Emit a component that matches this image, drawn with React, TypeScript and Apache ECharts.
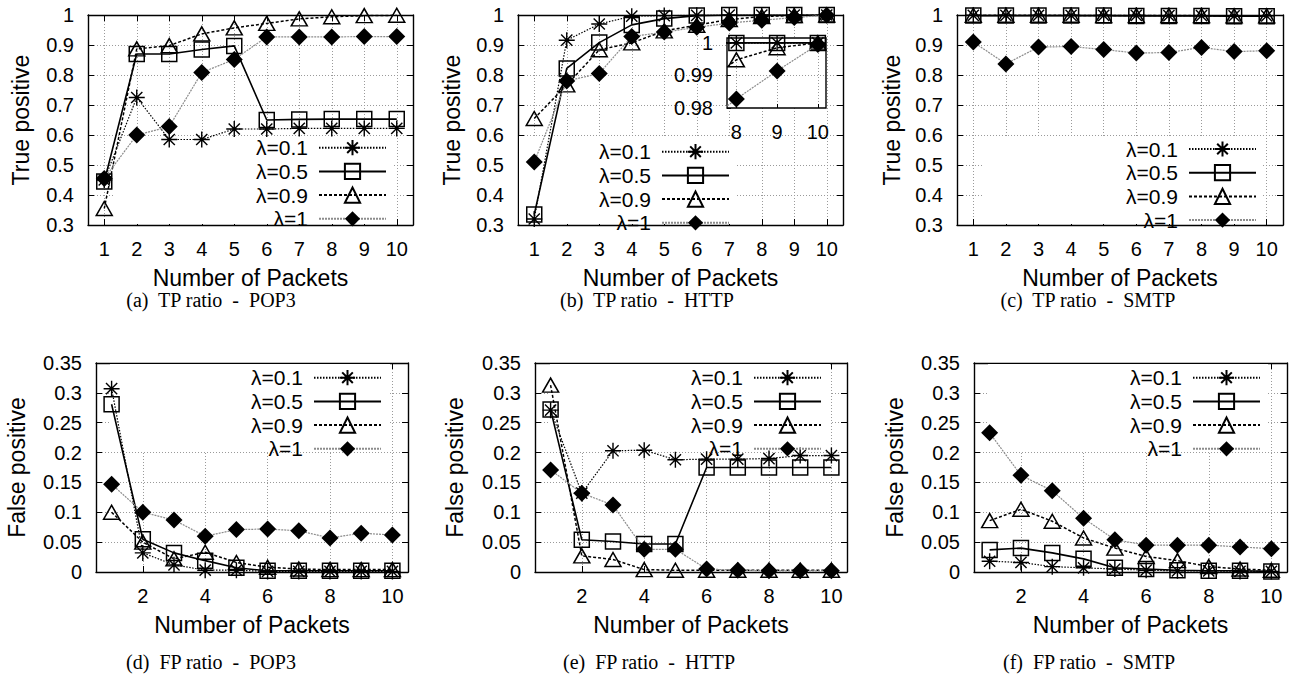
import React, { useEffect, useRef } from 'react';
import * as echarts from 'echarts';

// ---------------- data ----------------
const packets = [1, 2, 3, 4, 5, 6, 7, 8, 9, 10];
const lambdaNames = ['λ=0.1', 'λ=0.5', 'λ=0.9', 'λ=1'];

// (a) TP ratio - POP3
const tpPop3L01 = [0.45, 0.725, 0.585, 0.585, 0.62, 0.62, 0.622, 0.622, 0.622, 0.622];
const tpPop3L05 = [0.445, 0.87, 0.87, 0.885, 0.897, 0.65, 0.652, 0.653, 0.653, 0.653];
const tpPop3L09 = [0.355, 0.887, 0.898, 0.937, 0.957, 0.972, 0.987, 0.994, 0.998, 0.999];
const tpPop3L1 = [0.455, 0.6, 0.628, 0.808, 0.852, 0.927, 0.927, 0.927, 0.928, 0.928];

// (b) TP ratio - HTTP
const tpHttpL01 = [0.32, 0.916, 0.97, 0.996, 0.998, 0.999, 1, 1, 1, 1];
const tpHttpL05 = [0.335, 0.822, 0.908, 0.967, 0.988, 0.998, 1, 1, 1, 1];
const tpHttpL09 = [0.655, 0.767, 0.884, 0.907, 0.947, 0.966, 0.985, 0.9948, 0.9985, 1.0];
const tpHttpL1 = [0.51, 0.78, 0.805, 0.928, 0.943, 0.959, 0.973, 0.9828, 0.9914, 0.9995];

// (c) TP ratio - SMTP
const tpSmtpL01 = [0.999, 0.999, 0.999, 0.999, 0.999, 0.999, 0.998, 0.998, 0.997, 0.997];
const tpSmtpL05 = [0.998, 0.998, 0.998, 0.998, 0.998, 0.997, 0.997, 0.997, 0.996, 0.996];
const tpSmtpL09 = [0.999, 0.999, 0.999, 0.999, 0.998, 0.998, 0.998, 0.998, 0.997, 0.997];
const tpSmtpL1 = [0.91, 0.837, 0.893, 0.895, 0.885, 0.873, 0.875, 0.892, 0.878, 0.881];

// (d) FP ratio - POP3
const fpPop3L01 = [0.307, 0.032, 0.012, 0.003, 0.003, 0.001, 0.001, 0.001, 0.001, 0.001];
const fpPop3L05 = [0.281, 0.055, 0.032, 0.019, 0.007, 0.002, 0.002, 0.002, 0.002, 0.002];
const fpPop3L09 = [0.1, 0.05, 0.022, 0.033, 0.016, 0.008, 0.005, 0.004, 0.004, 0.004];
const fpPop3L1 = [0.147, 0.1, 0.087, 0.06, 0.071, 0.072, 0.069, 0.057, 0.065, 0.062];

// (e) FP ratio - HTTP
const fpHttpL01 = [0.271, 0.132, 0.203, 0.204, 0.188, 0.189, 0.189, 0.19, 0.195, 0.195];
const fpHttpL05 = [0.272, 0.054, 0.051, 0.047, 0.047, 0.175, 0.175, 0.175, 0.175, 0.175];
const fpHttpL09 = [0.313, 0.027, 0.021, 0.004, 0.003, 0.003, 0.003, 0.003, 0.003, 0.003];
const fpHttpL1 = [0.171, 0.132, 0.112, 0.038, 0.038, 0.005, 0.003, 0.002, 0.002, 0.002];

// (f) FP ratio - SMTP
const fpSmtpL01 = [0.018, 0.016, 0.009, 0.007, 0.005, 0.003, 0.002, 0.002, 0.001, 0.001];
const fpSmtpL05 = [0.037, 0.04, 0.032, 0.022, 0.007, 0.005, 0.003, 0.002, 0.002, 0.001];
const fpSmtpL09 = [0.086, 0.105, 0.085, 0.057, 0.04, 0.026, 0.019, 0.009, 0.005, 0.003];
const fpSmtpL1 = [0.233, 0.162, 0.136, 0.09, 0.054, 0.045, 0.045, 0.045, 0.042, 0.039];

const captions = [
  '(a)  TP ratio  -  POP3',
  '(b)  TP ratio  -  HTTP',
  '(c)  TP ratio  -  SMTP',
  '(d)  FP ratio  -  POP3',
  '(e)  FP ratio  -  HTTP',
  '(f)  FP ratio  -  SMTP',
];
const xTitle = 'Number of Packets';
const tpTitle = 'True positive';
const fpTitle = 'False positive';

// ---------------- styles ----------------
const SANS = '"Liberation Sans", Arial, Helvetica, sans-serif';
const SERIF = '"Liberation Serif", "Times New Roman", serif';
const ASTERISK = 'path://M0 8L16 8M8 0L8 16M2.4 2.4L13.6 13.6M13.6 2.4L2.4 13.6';
const GRID_LINE = { color: '#9a9a9a', width: 1, type: [1, 2] };

const seriesStyles = [
  { symbol: ASTERISK, size: 16, line: { color: '#000', width: 1.2, type: [1.5, 1.5] }, fill: 'rgba(0,0,0,0)', border: 1.4 },
  { symbol: 'rect', size: 15, line: { color: '#000', width: 1.6, type: 'solid' }, fill: 'rgba(0,0,0,0)', border: 1.5 },
  { symbol: 'triangle', size: [16, 14], line: { color: '#000', width: 1.5, type: [3, 2] }, fill: 'rgba(0,0,0,0)', border: 1.5 },
  { symbol: 'diamond', size: 17, line: { color: '#8c8c8c', width: 1.2, type: [2, 1] }, fill: '#000', border: 0 },
];

const panels = [
  { left: 88, top: 15, width: 325, height: 210, tp: true, vals: [tpPop3L01, tpPop3L05, tpPop3L09, tpPop3L1], legText: 305, legEnd: 387, legTop: 137.2, capX: 211, capY: 300, yGap: 56 },
  { left: 518, top: 15, width: 325, height: 210, tp: true, vals: [tpHttpL01, tpHttpL05, tpHttpL09, tpHttpL1], legText: 648, legEnd: 730, legTop: 141.2, capX: 647, capY: 300, yGap: 55 },
  { left: 957, top: 15, width: 326, height: 210, tp: true, vals: [tpSmtpL01, tpSmtpL05, tpSmtpL09, tpSmtpL1], legText: 1175, legEnd: 1257, legTop: 138.5, capX: 1088, capY: 300, yGap: 54 },
  { left: 96, top: 363, width: 312, height: 209, tp: false, vals: [fpPop3L01, fpPop3L05, fpPop3L09, fpPop3L1], legText: 302, legEnd: 382, legTop: 367.2, capX: 211, capY: 662, yGap: 68 },
  { left: 535, top: 363, width: 312, height: 209, tp: false, vals: [fpHttpL01, fpHttpL05, fpHttpL09, fpHttpL1], legText: 742, legEnd: 822, legTop: 367.2, capX: 649, capY: 662, yGap: 69 },
  { left: 974, top: 363, width: 313, height: 209, tp: false, vals: [fpSmtpL01, fpSmtpL05, fpSmtpL09, fpSmtpL1], legText: 1180, legEnd: 1261, legTop: 367.2, capX: 1089, capY: 662, yGap: 68 },
];

const inset = { left: 727, top: 38, width: 99, height: 70 };

function buildOption() {
  const grid: any[] = [];
  const xAxis: any[] = [];
  const yAxis: any[] = [];
  const legend: any[] = [];
  const series: any[] = [];
  const elements: any[] = [];

  const labelStyle = { fontSize: 20, fontFamily: SANS, color: '#000' };
  const axisLine = { show: true, onZero: false, lineStyle: { color: '#000', width: 1.4 } };
  const tick = { show: true, inside: true, length: 6, lineStyle: { color: '#000', width: 1 } };

  panels.forEach((p, i) => {
    grid.push({ left: p.left, top: p.top, width: p.width, height: p.height, show: false });
    const xBase = { type: 'value', gridIndex: i, min: 0.5, max: 10.5, splitNumber: p.tp ? 10 : 5 };
    xAxis.push({
      ...xBase, position: 'bottom', axisLine, axisTick: tick,
      axisLabel: { ...labelStyle, margin: 14, showMinLabel: false, showMaxLabel: false },
      splitLine: { show: true, showMinLine: false, showMaxLine: false, lineStyle: GRID_LINE },
      name: xTitle, nameLocation: 'middle', nameGap: 41,
      nameTextStyle: { fontSize: 23, fontFamily: SANS, color: '#000' },
    });
    xAxis.push({ ...xBase, position: 'top', axisLine, axisTick: tick, axisLabel: { show: false }, splitLine: { show: false } });
    const yBase = p.tp
      ? { type: 'value', gridIndex: i, min: 0.3, max: 1, interval: 0.1 }
      : { type: 'value', gridIndex: i, min: 0, max: 0.35, interval: 0.05 };
    yAxis.push({
      ...yBase, position: 'left', axisLine, axisTick: tick,
      axisLabel: { ...labelStyle, margin: 14 },
      splitLine: { show: true, showMinLine: false, showMaxLine: false, lineStyle: GRID_LINE },
      name: p.tp ? tpTitle : fpTitle, nameLocation: 'middle', nameGap: p.yGap,
      nameTextStyle: { fontSize: 23, fontFamily: SANS, color: '#000' },
    });
    yAxis.push({ ...yBase, position: 'right', axisLine, axisTick: tick, axisLabel: { show: false }, splitLine: { show: false } });

    legend.push({
      data: lambdaNames, orient: 'vertical', align: 'right', right: 1296 - p.legEnd, top: p.legTop,
      padding: 0, itemGap: 2.7, itemWidth: 67, itemHeight: 19, selectedMode: false,
      textStyle: { fontSize: 21, fontFamily: SANS, color: '#000', lineHeight: 19, padding: [0, 6, 0, 0] },
    });

    // key area (hides grid lines, not data)
    const boxL = Math.max(p.left + 1, p.legText - 192);
    const boxR = Math.min(p.left + p.width - 1, p.legText + 88);
    const boxT = p.tp ? 136 : p.top + 1;
    const boxB = p.tp ? p.top + p.height - 1 : 451;
    elements.push({ type: 'rect', z: 1, silent: true, shape: { x: boxL, y: boxT, width: boxR - boxL, height: boxB - boxT }, style: { fill: '#fff' } });

    elements.push({
      type: 'text', z: 1, x: p.capX, y: p.capY,
      style: { text: captions[i], fontSize: 20, fontFamily: SERIF, fill: '#000', align: 'center', verticalAlign: 'middle' },
    });

    p.vals.forEach((vals, k) => {
      const s = seriesStyles[k];
      series.push({
        type: 'line', name: lambdaNames[k], xAxisIndex: 2 * i, yAxisIndex: 2 * i,
        data: packets.map((x, j) => [x, vals[j]]),
        symbol: s.symbol, symbolSize: s.size, symbolKeepAspect: true,
        lineStyle: s.line,
        itemStyle: { color: s.fill, borderColor: '#000', borderWidth: s.border },
        z: 2 + k * 0.01,
      });
    });
  });

  // inset in panel (b)
  const gi = panels.length;
  grid.push({ ...inset, show: true, backgroundColor: '#fff', borderColor: '#000', borderWidth: 1.4, z: 5 });
  xAxis.push({
    type: 'value', gridIndex: gi, min: 7.77, max: 10.2, splitNumber: 3, position: 'bottom', z: 6,
    axisLine: { show: false }, axisTick: { show: true, inside: true, length: 4, lineStyle: { color: '#000' } },
    axisLabel: { ...labelStyle, margin: 14, showMinLabel: false, showMaxLabel: false },
    splitLine: { show: true, showMinLine: false, showMaxLine: false, lineStyle: GRID_LINE },
  });
  yAxis.push({
    type: 'value', gridIndex: gi, min: 0.98, max: 1.0015, interval: 0.01, position: 'left', z: 6,
    axisLine: { show: false }, axisTick: { show: true, inside: true, length: 4, lineStyle: { color: '#000' } },
    axisLabel: { ...labelStyle, margin: 14, showMaxLabel: false },
    splitLine: { show: true, showMinLine: false, showMaxLine: false, lineStyle: GRID_LINE },
  });
  panels[1].vals.forEach((vals, k) => {
    const s = seriesStyles[k];
    series.push({
      type: 'line', name: lambdaNames[k], xAxisIndex: xAxis.length - 1, yAxisIndex: yAxis.length - 1,
      data: packets.map((x, j) => [x, vals[j]]),
      symbol: s.symbol, symbolSize: s.size, symbolKeepAspect: true,
      lineStyle: s.line,
      itemStyle: { color: s.fill, borderColor: '#000', borderWidth: s.border },
      z: 7 + k * 0.01,
    });
  });

  return {
    animation: false,
    backgroundColor: '#fff',
    grid, xAxis, yAxis, legend, series,
    graphic: { elements },
  };
}

export default function App() {
  const ref = useRef<HTMLDivElement>(null);
  useEffect(() => {
    if (!ref.current) return;
    const chart = echarts.init(ref.current, undefined, { renderer: 'svg' });
    chart.setOption(buildOption() as any);
    return () => chart.dispose();
  }, []);
  return <div ref={ref} style={{ position: 'absolute', left: 0, top: 0, width: 1296, height: 677 }} />;
}
